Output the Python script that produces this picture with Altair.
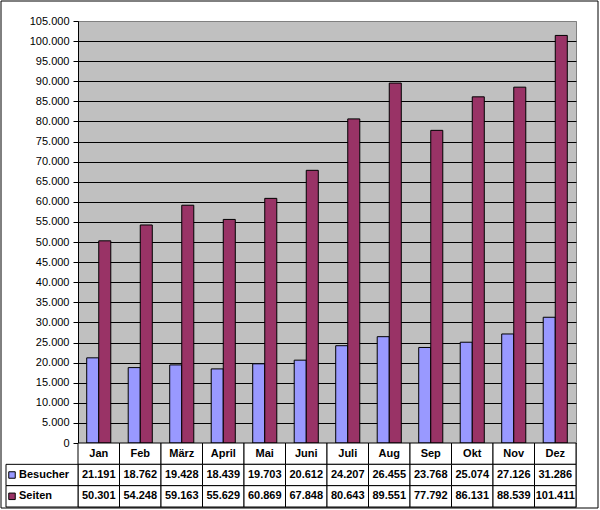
import altair as alt
import pandas as pd

months = ["Jan", "Feb", "März", "April", "Mai", "Juni", "Juli", "Aug", "Sep", "Okt", "Nov", "Dez"]
besucher = [21191, 18762, 19428, 18439, 19703, 20612, 24207, 26455, 23768, 25074, 27126, 31286]
seiten = [50301, 54248, 59163, 55629, 60869, 67848, 80643, 89551, 77792, 86131, 88539, 101411]
series_names = ["Besucher", "Seiten"]
series_colors = ["#9999FF", "#993366"]
y_ticks = list(range(0, 105001, 5000))
table_rows = ["Monat", "Besucher", "Seiten"]

FONT = "Liberation Sans"
W, H = 498, 486
PLOT_H = 422


def de(v):
    return f"{v:,}".replace(",", ".")


bars_df = pd.DataFrame(
    [{"month": m, "series": "Besucher", "value": v} for m, v in zip(months, besucher)]
    + [{"month": m, "series": "Seiten", "value": v} for m, v in zip(months, seiten)]
)

cells = []
for i, m in enumerate(months):
    cells.append({"month": m, "row": "Monat", "label": m})
    cells.append({"month": m, "row": "Besucher", "label": de(besucher[i])})
    cells.append({"month": m, "row": "Seiten", "label": de(seiten[i])})
cells_df = pd.DataFrame(cells)
legend_df = pd.DataFrame({"row": series_names, "series": series_names})

color = alt.Color("series:N", scale=alt.Scale(domain=series_names, range=series_colors), legend=None)

x_bar = alt.X("month:N", sort=months,
              scale=alt.Scale(paddingInner=0.42, paddingOuter=0.21), axis=None)
y_bar = alt.Y(
    "value:Q",
    scale=alt.Scale(domain=[0, 105000], range=[PLOT_H, 0], nice=False),
    axis=alt.Axis(
        values=y_ticks, title=None,
        labelExpr="replace(format(datum.value, ',d'), ',', '.')",
        grid=True,
        gridColor={"condition": {"test": "datum.value === 105000", "value": "#808080"}, "value": "black"},
        gridWidth=1, domainColor="black", domainWidth=1,
        tickColor="black", tickSize=5, labelPadding=4,
        labelFont=FONT, labelFontSize=11, labelColor="black",
    ),
)

bars = alt.Chart(bars_df).mark_bar(stroke="black", strokeWidth=1, opacity=1).encode(
    x=x_bar,
    xOffset=alt.XOffset("series:N", sort=series_names,
                        scale=alt.Scale(paddingInner=0, paddingOuter=0)),
    y=y_bar,
    color=color,
)

x_tab = alt.X("month:N", sort=months, scale=alt.Scale(paddingInner=0, paddingOuter=0), axis=None)
y_tab = alt.Y("row:N", sort=table_rows,
              scale=alt.Scale(domain=table_rows, range=[PLOT_H, H], paddingInner=0, paddingOuter=0),
              axis=None)

cell_rects = alt.Chart(cells_df).mark_rect(fill="white", stroke="black", strokeWidth=1).encode(
    x=x_tab, y=y_tab
)
cell_text = alt.Chart(cells_df).mark_text(
    font=FONT, fontSize=11, fontWeight="bold", color="black", baseline="middle", align="center"
).encode(x=x_tab, y=y_tab, text="label:N")

legend_rects = alt.Chart(legend_df).mark_rect(fill="white", stroke="black", strokeWidth=1).encode(
    x=alt.value(-72), x2=alt.value(0), y=y_tab
)
legend_squares = alt.Chart(legend_df).mark_square(size=42, stroke="black", strokeWidth=1, opacity=1).encode(
    x=alt.value(-66), y=y_tab, color=color
)
legend_text = alt.Chart(legend_df).mark_text(
    font=FONT, fontSize=11, fontWeight="bold", color="black", baseline="middle", align="left"
).encode(x=alt.value(-59), y=y_tab, text="row:N")

border = alt.Chart(pd.DataFrame({"a": [0]})).mark_rect(
    fillOpacity=0, stroke="black", strokeWidth=1
).encode(x=alt.value(-77), x2=alt.value(520), y=alt.value(-20), y2=alt.value(487))

table = alt.layer(cell_rects, cell_text, legend_rects, legend_squares, legend_text)

chart = alt.layer(bars, table, border).resolve_scale(
    x="independent", y="independent"
).properties(
    width=W, height=H,
    autosize=alt.AutoSizeParams(type="none"),
    padding={"left": 78, "top": 21, "right": 24, "bottom": 3},
    background="white",
).configure_view(fill="#C0C0C0", stroke="#808080", strokeWidth=1)

chart.save("out.html", embed_options={"renderer": "svg", "actions": False})
